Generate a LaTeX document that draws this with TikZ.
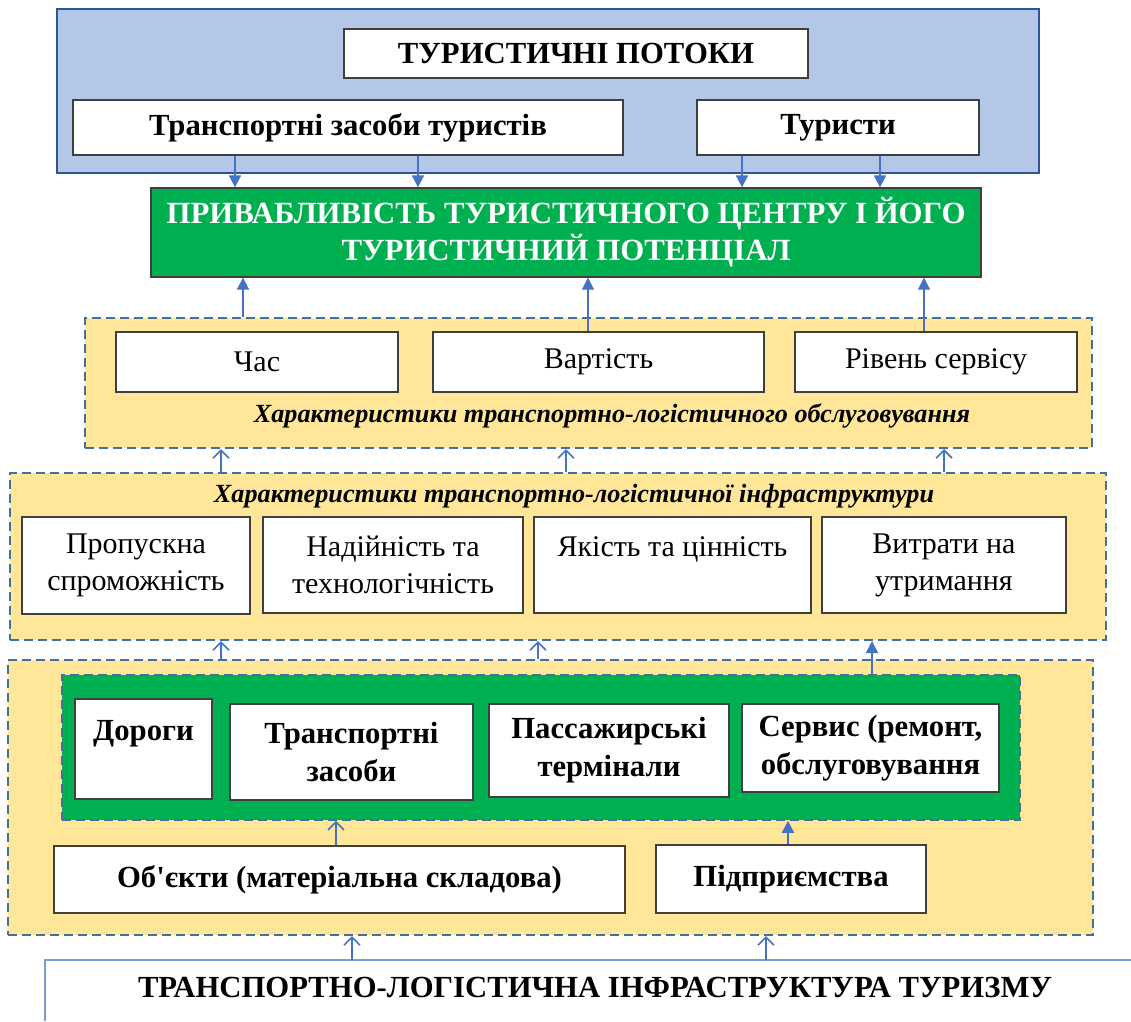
\documentclass[tikz,border=0pt]{standalone}
\usepackage{fontspec}
\setmainfont{Liberation Serif}[Ligatures=TeXOff]
\usetikzlibrary{arrows.meta}

\definecolor{panelblue}{HTML}{B4C7E7}
\definecolor{panelblueline}{HTML}{2F5597}
\definecolor{boxline}{HTML}{3F3F3F}
\definecolor{attrgreen}{HTML}{00B050}
\definecolor{paneyellow}{HTML}{FFE699}
\definecolor{dashline}{HTML}{41719C}
\definecolor{arrowblue}{HTML}{4472C4}
\definecolor{baseblue}{HTML}{7A9CD8}

\tikzset{
  box/.style={draw=boxline, line width=1.3pt, fill=white, inner sep=0pt, align=center},
  boldtxt/.style={font=\fontsize{30.7}{38}\selectfont\bfseries},
  regtxt/.style={font=\fontsize{30}{37}\selectfont},
  ittxt/.style={font=\fontsize{26.2}{30}\selectfont\bfseries\itshape},
  bluepanel/.style={draw=panelblueline, line width=2.5pt, fill=panelblue, inner sep=0pt},
  yellowpanel/.style={draw=dashline, line width=2pt, dash pattern=on 9pt off 5pt, fill=paneyellow, inner sep=0pt},
  greenpanel/.style={draw=dashline, line width=1.6pt, dash pattern=on 9pt off 5pt, fill=attrgreen, inner sep=0pt},
  farrow/.style={draw=arrowblue, line width=1.8pt, -{Triangle[length=12pt,width=12pt]}},
  oarrow/.style={draw=arrowblue, line width=1.6pt, -{Straight Barb[length=8pt,width=16pt,line width=1.6pt]}},
}

\begin{document}
\begin{tikzpicture}[x=1pt,y=-1pt]
\useasboundingbox (0,0) rectangle (1131,1021);

% --- tourist flows ---
\node[bluepanel, minimum width=982, minimum height=164] (flows) at (548,91) {};
\node[box, boldtxt, minimum width=464, minimum height=49] (ttl) at (576,53.5) {ТУРИСТИЧНІ ПОТОКИ};
\node[box, boldtxt, minimum width=550, minimum height=55] (tzt) at (348,127.5) {Транспортні засоби туристів};
\node[box, boldtxt, minimum width=282, minimum height=55] (tur) at (838,127.5) {Туристи};

% --- attractiveness ---
\node[box, fill=attrgreen, text=white, font=\fontsize{30.8}{37}\selectfont\bfseries, minimum width=830, minimum height=89] (attr) at (566,232.5)
  {ПРИВАБЛИВІСТЬ ТУРИСТИЧНОГО ЦЕНТРУ І ЙОГО\\ТУРИСТИЧНИЙ ПОТЕНЦІАЛ};

% --- service characteristics ---
\node[yellowpanel, minimum width=1007, minimum height=130] (yel1) at (588.5,383) {};
\node[box, regtxt, minimum width=282, minimum height=60] (chas) at (257,362) {Час};
\node[box, regtxt, minimum width=331, minimum height=60] (vart) at (598.5,362) {Вартість};
\node[box, regtxt, minimum width=282, minimum height=60] (riv) at (936,362) {Рівень сервісу};
\node[ittxt, inner sep=0pt] (yel1t) at (612,416) {Характеристики транспортно-логістичного обслуговування};

% --- infrastructure characteristics ---
\node[yellowpanel, minimum width=1096, minimum height=167] (yel2) at (558,556.5) {};
\node[ittxt, inner sep=0pt] (yel2t) at (574,496) {Характеристики транспортно-логістичної інфраструктури};
\node[box, regtxt, minimum width=228, minimum height=97] (prop) at (136,565.5) {Пропускна\\спроможність};
\node[box, regtxt, minimum width=260, minimum height=96] (nad) at (393,565) {Надійність та\\технологічність};
\node[box, regtxt, minimum width=277, minimum height=96] (yak) at (672.5,565) {Якість та цінність\\\mbox{}};
\node[box, regtxt, minimum width=244, minimum height=96] (vytr) at (944,565) {Витрати на\\утримання};

% --- infrastructure components ---
\node[yellowpanel, minimum width=1085, minimum height=275] (yel3) at (550.5,797.5) {};
\node[greenpanel, minimum width=958, minimum height=145] (gin) at (541,747.5) {};
\node[box, boldtxt, minimum width=137, minimum height=100] (dor) at (143.5,749) {Дороги\\\mbox{}};
\node[box, boldtxt, minimum width=243, minimum height=96] (tz) at (351.5,752) {Транспортні\\засоби};
\node[box, boldtxt, minimum width=240, minimum height=93] (pas) at (609,750.5) {Пассажирські\\термінали};
\node[box, boldtxt, minimum width=257, minimum height=88] (serv) at (870.5,748) {Сервис (ремонт,\\обслуговування};
\node[box, boldtxt, minimum width=571, minimum height=67] (obj) at (339.5,879.5) {Об'єкти (матеріальна складова)};
\node[box, boldtxt, minimum width=270, minimum height=68] (pidp) at (791,879) {Підприємства};

% --- base ---
\coordinate (btl) at (45,960);
\draw[baseblue, line width=1.3pt] (45,1021) -- (btl) -- (1131,960);
\node[boldtxt, inner sep=0pt] (base) at (595,987) {ТРАНСПОРТНО-ЛОГІСТИЧНА ІНФРАСТРУКТУРА ТУРИЗМУ};

% --- connectors ---
\draw[farrow] (tzt.south -| 235,0) -- (attr.north -| 235,0);
\draw[farrow] (tzt.south -| 418,0) -- (attr.north -| 418,0);
\draw[farrow] (tur.south -| 742,0) -- (attr.north -| 742,0);
\draw[farrow] (tur.south -| 880,0) -- (attr.north -| 880,0);

\draw[farrow] (yel1.north -| 243,0) -- (attr.south -| 243,0);
\draw[farrow] (vart.north -| 588,0) -- (attr.south -| 588,0);
\draw[farrow] (riv.north -| 924,0) -- (attr.south -| 924,0);

\draw[oarrow] (yel2.north -| 221,0) -- (yel1.south -| 221,0);
\draw[oarrow] (yel2.north -| 566,0) -- (yel1.south -| 566,0);
\draw[oarrow] (yel2.north -| 944,0) -- (yel1.south -| 944,0);

\draw[oarrow] (yel3.north -| 221,0) -- (yel2.south -| 221,0);
\draw[oarrow] (yel3.north -| 538,0) -- (yel2.south -| 538,0);
\draw[farrow] (gin.north -| 872,0) -- (yel2.south -| 872,0);

\draw[oarrow] (obj.north -| 336,0) -- (gin.south -| 336,0);
\draw[farrow] (pidp.north -| 788,0) -- (gin.south -| 788,0);

\draw[oarrow] (btl -| 352,0) -- (yel3.south -| 352,0);
\draw[oarrow] (btl -| 766,0) -- (yel3.south -| 766,0);
\end{tikzpicture}
\end{document}
